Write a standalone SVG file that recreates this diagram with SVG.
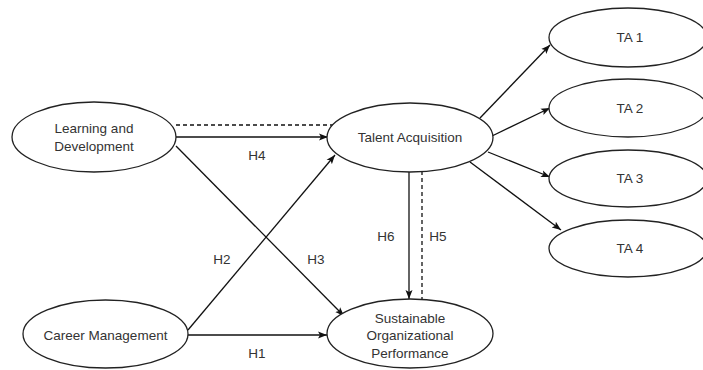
<svg xmlns="http://www.w3.org/2000/svg" width="703" height="370" viewBox="0 0 703 370">
<style>
.n ellipse{fill:#fff;stroke:#222;stroke-width:1.3}
text{font-family:"Liberation Sans",Arial,sans-serif;font-size:13.5px;fill:#333;text-anchor:middle;dominant-baseline:central}
.c line{stroke:#111;stroke-width:1.3;fill:none}
.c .d{stroke-dasharray:4 3}
.c .a{marker-end:url(#ah)}
</style>
<defs>
<marker id="ah" markerWidth="10" markerHeight="10" refX="9" refY="5" orient="auto" markerUnits="userSpaceOnUse">
<path d="M0,1.5 L9,5 L0,8.5 L2,5 Z" fill="#111"/>
</marker>
</defs>
<rect width="703" height="370" fill="#fff"/>
<g class="c" id="connectors">
<line class="d" x1="176" y1="125" x2="334" y2="125"/>
<line class="a" x1="176" y1="137" x2="328" y2="137"/>
<line class="a" x1="176" y1="146" x2="344" y2="316"/>
<line class="a" x1="188" y1="330" x2="335" y2="155"/>
<line class="a" x1="188" y1="335" x2="327" y2="335"/>
<line class="a" x1="409" y1="172" x2="409" y2="299"/>
<line class="d" x1="422" y1="171" x2="422" y2="299"/>
<line class="a" x1="480" y1="118" x2="550" y2="45"/>
<line class="a" x1="492" y1="136" x2="550" y2="108"/>
<line class="a" x1="488" y1="152" x2="550" y2="177"/>
<line class="a" x1="470" y1="162" x2="561" y2="230"/>
<text x="257" y="155">H4</text>
<text x="222" y="259">H2</text>
<text x="316" y="259">H3</text>
<text x="257" y="353">H1</text>
<text x="386" y="236">H6</text>
<text x="438" y="236">H5</text>
</g>
<g class="n" id="ld"><ellipse cx="94" cy="137" rx="82" ry="35"/><text x="94" y="128">Learning and</text><text x="94" y="146">Development</text></g>
<g class="n" id="cm"><ellipse cx="105.5" cy="334" rx="82.5" ry="34"/><text x="105.5" y="335">Career Management</text></g>
<g class="n" id="ta"><ellipse cx="410" cy="137.5" rx="83" ry="34.5"/><text x="410" y="137">Talent Acquisition</text></g>
<g class="n" id="sop"><ellipse cx="410" cy="333.5" rx="83" ry="34.5"/><text x="410" y="318">Sustainable</text><text x="410" y="335">Organizational</text><text x="410" y="353">Performance</text></g>
<g class="n" id="ta1"><ellipse cx="628" cy="37.5" rx="79" ry="29.5"/><text x="630" y="37">TA 1</text></g>
<g class="n" id="ta2"><ellipse cx="628" cy="108" rx="79" ry="29"/><text x="630" y="108">TA 2</text></g>
<g class="n" id="ta3"><ellipse cx="628" cy="178.5" rx="79" ry="28.5"/><text x="630" y="178">TA 3</text></g>
<g class="n" id="ta4"><ellipse cx="628" cy="248.5" rx="79" ry="28.5"/><text x="630" y="248">TA 4</text></g>
</svg>
